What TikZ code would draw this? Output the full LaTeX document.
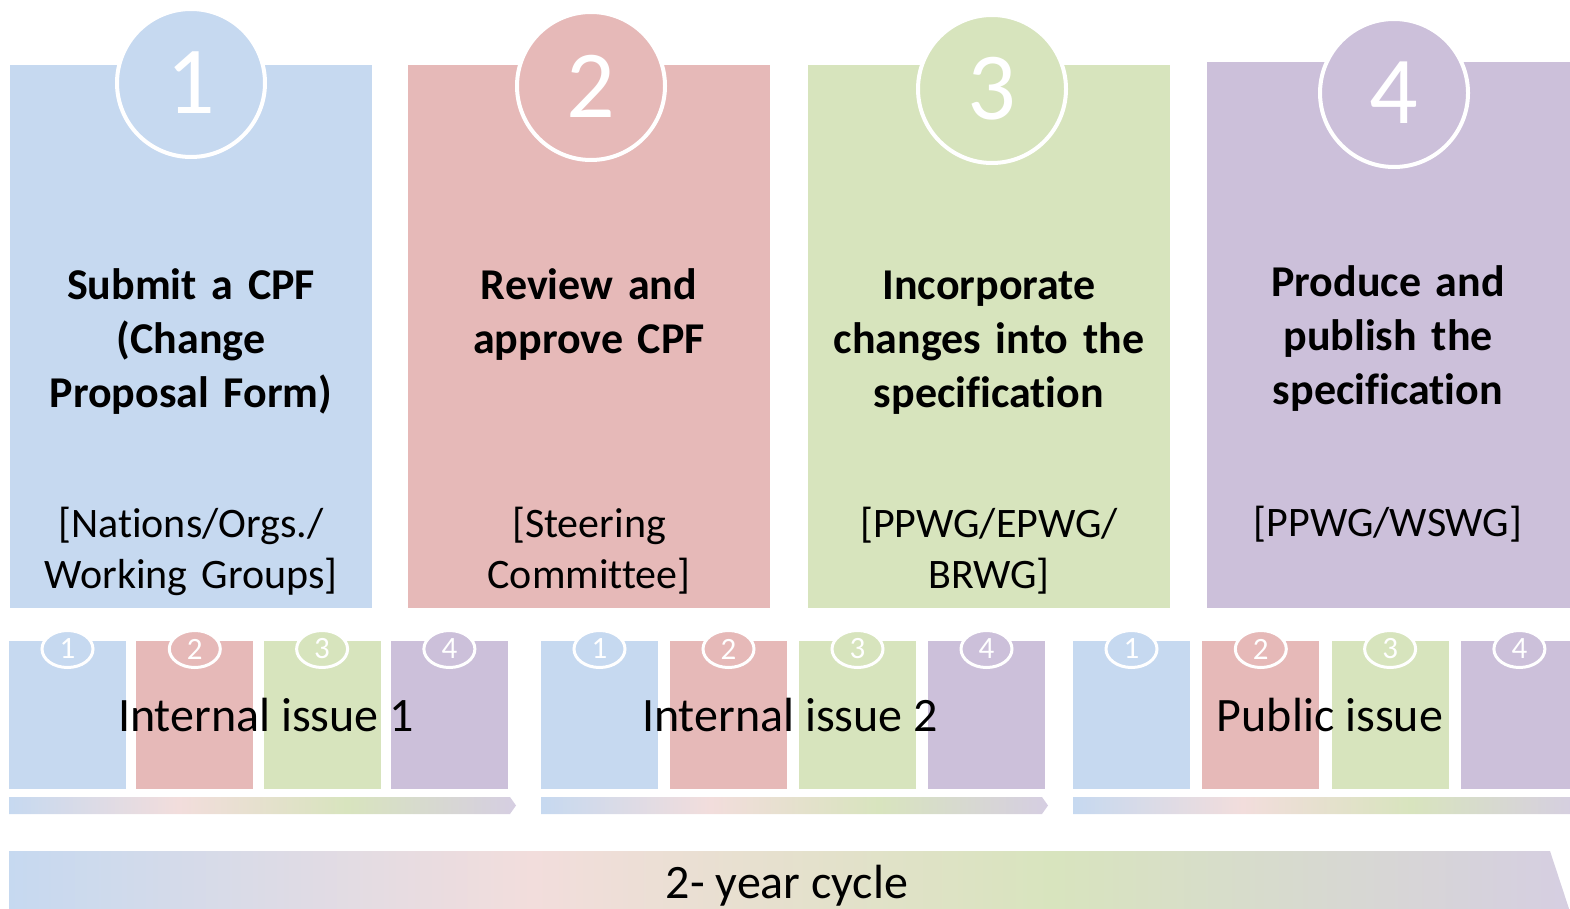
\documentclass[tikz,border=0pt]{standalone}
\usepackage{fontspec}
\setmainfont{Carlito}[Ligatures=NoCommon]
\usetikzlibrary{shapes.geometric}
\definecolor{stageblue}{RGB}{198,217,240}
\definecolor{stagered}{RGB}{230,185,184}
\definecolor{stagegreen}{RGB}{215,228,189}
\definecolor{stagepurple}{RGB}{204,192,218}
\definecolor{fadeblue}{RGB}{198,217,240}
\definecolor{fadepink}{RGB}{242,221,220}
\definecolor{fadegreen}{RGB}{216,228,190}
\definecolor{fadepurple}{RGB}{214,206,226}
\pgfdeclarehorizontalshading{cycleshade}{100bp}{color(0bp)=(fadeblue); color(25bp)=(fadeblue); color(41.7bp)=(fadepink); color(58.3bp)=(fadegreen); color(75bp)=(fadepurple); color(100bp)=(fadepurple)}
\tikzset{
	bignum/.style={circle, draw=white, line width=4pt, minimum size=148pt, inner sep=0pt, text=white, font=\fontsize{96}{96}\selectfont},
	smallnum/.style={ellipse, draw=white, line width=3pt, minimum width=51pt, minimum height=37pt, inner sep=0pt, text=white, font=\fontsize{31}{31}\selectfont},
	stagetitle/.style={anchor=base, text width=350pt, align=center, inner sep=0pt, font=\fontsize{44}{54}\selectfont\bfseries},
	stageteam/.style={anchor=base, text width=350pt, align=center, inner sep=0pt, font=\fontsize{42}{51}\selectfont},
	issuelabel/.style={anchor=base, inner sep=0pt, font=\fontsize{48}{48}\selectfont}
}
\begin{document}
\begin{tikzpicture}[x=1pt, y=-1pt]
	\useasboundingbox (0,0) rectangle (1570,909);
	\clip (0,0) rectangle (1570,909);
	
	% stage columns
	\fill[stageblue] (10,65) rectangle (372,608);
	\fill[stagered] (408,65) rectangle (770,608);
	\fill[stagegreen] (808,65) rectangle (1170,608);
	\fill[stagepurple] (1207,62) rectangle (1580,608);
	
	\node[bignum, fill=stageblue] (n1) at (191,83) {1};
	\node[bignum, fill=stagered] (n2) at (591,86) {2};
	\node[bignum, fill=stagegreen] (n3) at (992,89) {3};
	\node[bignum, fill=stagepurple] (n4) at (1394,93) {4};
	
	% what happens
	\node[stagetitle] (t1) at (191,299) {Submit a CPF\\(Change\\Proposal Form)};
	\node[stagetitle] (t2) at (589,299) {Review and\\approve CPF};
	\node[stagetitle] (t3) at (989,299) {Incorporate\\changes into the\\specification};
	\node[stagetitle] (t4) at (1388,296) {Produce and\\publish the\\specification};
	
	% who does it
	\node[stageteam] (w1) at (191,537) {[Nations/Orgs./\\Working Groups]};
	\node[stageteam] (w2) at (589,537) {[Steering\\Committee]};
	\node[stageteam] (w3) at (989,537) {[PPWG/EPWG/\\BRWG]};
	\node[stageteam] (w4) at (1388,536) {[PPWG/WSWG]};
	
	% issues
	\foreach \gx/\gs [count=\g] in {9/127.3, 541/129, 1073/129.3} {
		\foreach \c/\n in {stageblue/1, stagered/2, stagegreen/3, stagepurple/4} {
			\pgfmathsetmacro{\bx}{\gx+(\n-1)*\gs}
			\fill[\c] (\bx,641) rectangle ++(117,148);
			\node[smallnum, fill=\c] (s\g\n) at (\bx+58.5,649) {\n};
		}
		\shade[shading=cycleshade] (\gx,797) -- ++(501,0) -- ++(6,8.5) -- ++(-6,8.5) -- ++(-501,0) -- cycle;
	}
	\node[issuelabel] (i1) at (266,731) {Internal issue 1};
	\node[issuelabel] (i2) at (790,731) {Internal issue 2};
	\node[issuelabel] (i3) at (1330,731) {Public issue};
	
	% cycle arrow
	\shade[shading=cycleshade] (9,851) -- (1550,851) -- (1576,930) -- (9,930) -- cycle;
	\node[issuelabel] (cyc) at (787,898) {2- year cycle};
\end{tikzpicture}
\end{document}
